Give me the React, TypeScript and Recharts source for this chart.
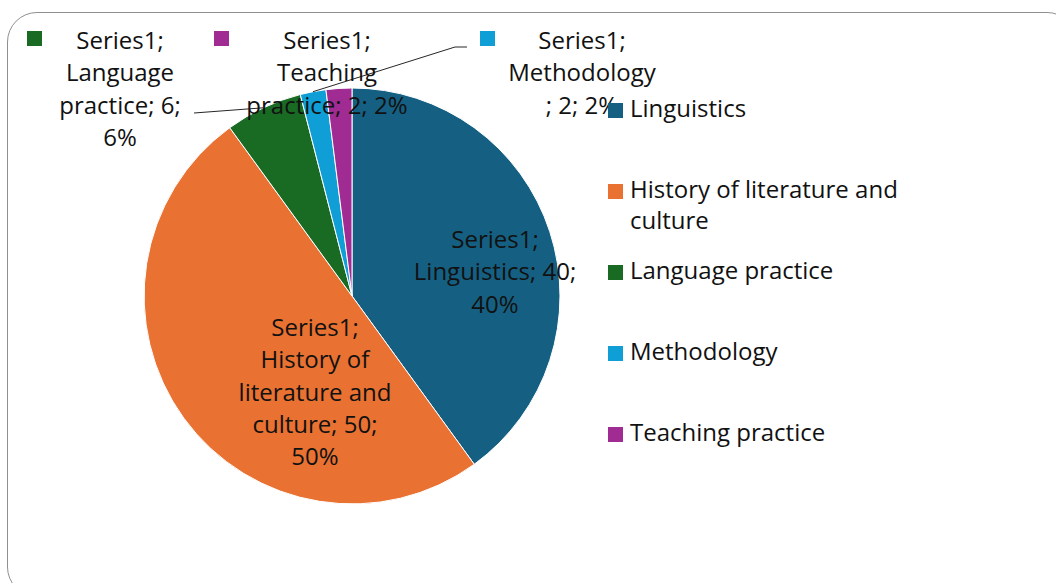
import React from "react";
import { PieChart, Pie, Cell, Legend } from "recharts";

const seriesName = "Series1";
const categories = [
  "Linguistics",
  "History of literature and culture",
  "Language practice",
  "Methodology",
  "Teaching practice",
];
const values = [40, 50, 6, 2, 2];
const colors = ["#156082", "#E97132", "#196B24", "#0F9ED5", "#A02B93"];

const FONT = "'Open Sans', sans-serif";
const FS = 24;
const LINE = 32.3;

// label placement relative to the pie centre; wrap = max chars per line
const labelLayout = [
  { dx: 143, dy: -48, wrap: 16 },
  { dx: -37, dy: 40, wrap: 14 },
  { dx: -232, dy: -247, wrap: 12, key: -93, leader: [[74, 64]] },
  { dx: 230, dy: -247, wrap: 11, key: -102, leader: [[-115, -2], [-127, -2]] },
  { dx: -25, dy: -247, wrap: 15, key: -113 },
];

const data = categories.map((name, i) => ({ name, value: values[i] }));
const total = values.reduce((a, b) => a + b, 0);

function wrapText(text: string, max: number) {
  const words = text.split(" ");
  const lines: string[] = [];
  let cur = "";
  for (let w of words) {
    while (w.length > max) {
      if (cur) {
        lines.push(cur);
        cur = "";
      }
      lines.push(w.slice(0, max));
      w = w.slice(max);
    }
    if (!cur) cur = w;
    else if ((cur + " " + w).length <= max) cur = cur + " " + w;
    else {
      lines.push(cur);
      cur = w;
    }
  }
  if (cur) lines.push(cur);
  return lines;
}

const renderLabel = (props: any) => {
  const { cx, cy, midAngle, outerRadius, index, value, name } = props;
  const lay: any = labelLayout[index];
  const RAD = Math.PI / 180;
  const ax = cx + outerRadius * Math.cos(-midAngle * RAD);
  const ay = cy + outerRadius * Math.sin(-midAngle * RAD);
  const x = cx + lay.dx;
  const y = cy + lay.dy;
  const pct = Math.round((value / total) * 100);
  const lines = wrapText(`${seriesName}; ${name}; ${value}; ${pct}%`, lay.wrap);
  let leader = null;
  if (lay.leader) {
    const pts = lay.leader.map((p: number[]) => `${x + p[0]},${y + p[1]}`);
    pts.push(`${ax},${ay}`);
    leader = <polyline points={pts.join(" ")} fill="none" stroke="#262626" strokeWidth={1} />;
  }
  return (
    <g key={`lbl-${index}`}>
      {leader}
      {lay.key !== undefined && (
        <rect x={x + lay.key} y={y - 18} width={15} height={15} fill={colors[index]} />
      )}
      <text
        x={x}
        y={y}
        textAnchor="middle"
        fontFamily={FONT}
        fontSize={FS}
        fill="#111"
      >
        {lines.map((l, i) => (
          <tspan key={i} x={x} dy={i === 0 ? 0 : LINE}>
            {l}
          </tspan>
        ))}
      </text>
    </g>
  );
};

const renderLegend = () => (
  <div style={{ fontFamily: FONT, fontSize: FS, lineHeight: "31px", color: "#111" }}>
    {categories.map((c, i) => (
      <div key={c} style={{ display: "flex", alignItems: "flex-start", height: 81 }}>
        <div
          style={{
            width: 15,
            height: 15,
            marginTop: 11,
            marginRight: 7,
            background: colors[i],
            flexShrink: 0,
          }}
        />
        <div style={{ width: 290 }}>{c}</div>
      </div>
    ))}
  </div>
);

export default function App() {
  return (
    <div
      style={{
        position: "fixed",
        left: 0,
        top: 0,
        width: 1056,
        height: 583,
        overflow: "hidden",
        background: "#fff",
      }}
    >
      <div
        style={{
          position: "absolute",
          left: 7,
          top: 12,
          width: 1068,
          height: 583,
          border: "1px solid #8f8f8f",
          borderRadius: 30,
        }}
      />
      <div style={{ position: "absolute", left: 0, top: 0 }}>
        <PieChart width={1056} height={583} margin={{ top: 0, right: 0, bottom: 0, left: 0 }}>
          <Pie
            data={data}
            dataKey="value"
            nameKey="name"
            cx={352}
            cy={296}
            outerRadius={208}
            startAngle={90}
            endAngle={-270}
            stroke="#fff"
            strokeWidth={1}
            label={renderLabel}
            labelLine={false}
            isAnimationActive={false}
          >
            {data.map((d, i) => (
              <Cell key={d.name} fill={colors[i]} />
            ))}
          </Pie>
          <Legend
            layout="vertical"
            align="right"
            verticalAlign="top"
            content={renderLegend}
            wrapperStyle={{ left: 608, top: 92, width: 320, right: "auto" }}
          />
        </PieChart>
      </div>
    </div>
  );
}
